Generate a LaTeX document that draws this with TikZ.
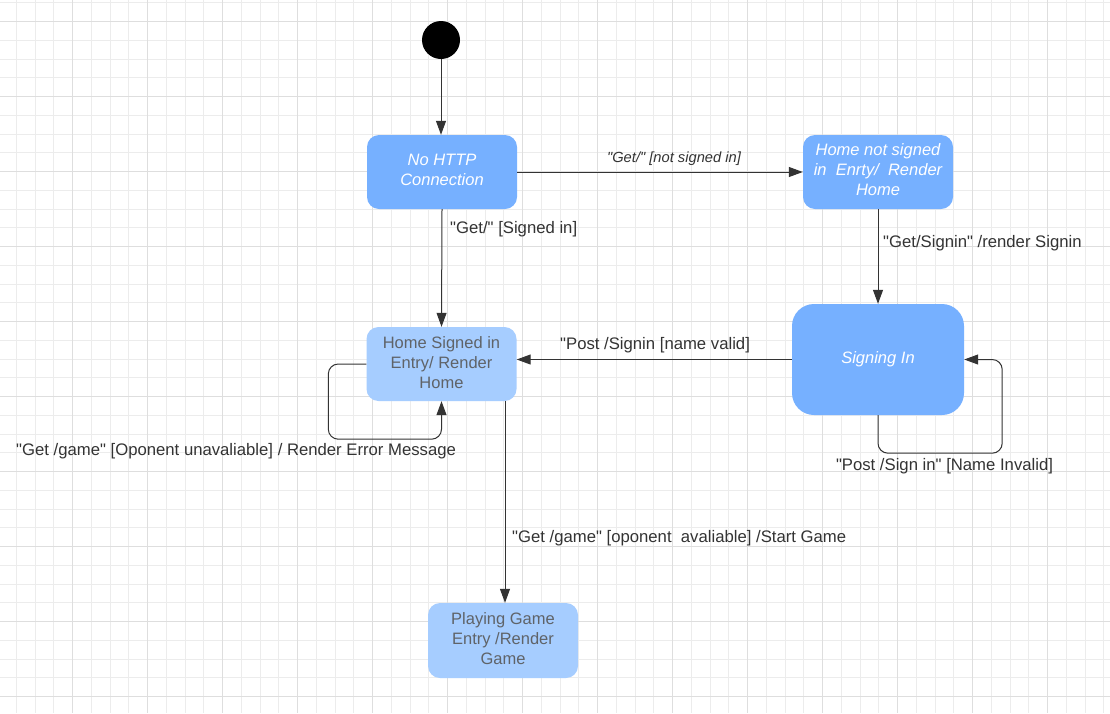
\documentclass[tikz,border=0pt]{standalone}
\usepackage{fontspec}
\setmainfont{Liberation Sans}[Ligatures=TeXOff]
\usetikzlibrary{arrows.meta}
\definecolor{boxA}{RGB}{118,176,255}
\definecolor{boxB}{RGB}{166,205,255}
\definecolor{gridminor}{RGB}{236,236,236}
\definecolor{gridmajor}{RGB}{222,222,222}
\definecolor{ink}{RGB}{51,51,51}
\definecolor{softtxt}{RGB}{95,99,104}
\newcommand{\liftup}[2]{\raisebox{#1}[\height][\depth]{\parbox{150pt}{\centering #2}}}
\tikzset{
  statebright/.style={draw=none, fill=boxA, rounded corners=12pt, text=white,
    font=\fontsize{16.5}{20}\selectfont\itshape, align=center,
    minimum width=150pt, minimum height=74pt, inner sep=0pt},
  statesoft/.style={draw=none, fill=boxB, rounded corners=12pt, text=softtxt,
    font=\fontsize{16.5}{20}\selectfont, align=center,
    minimum width=150pt, minimum height=74pt, inner sep=0pt},
  conn/.style={draw=ink, line width=1pt, -{Triangle[length=14pt,width=10pt]}},
  lbl/.style={text=ink, font=\fontsize{16.7}{19}\selectfont, inner sep=0pt, anchor=west},
  lblit/.style={text=ink, font=\fontsize{14.7}{17}\selectfont\itshape, inner sep=0pt},
}
\begin{document}
\begin{tikzpicture}[x=1pt,y=-1pt]
\useasboundingbox (0,0) rectangle (1110,713);
\fill[white] (0,0) rectangle (1110,713);
% grid
\foreach \k in {0,...,58} {
  \draw[gridminor, line width=1pt] ({16.45+18.75*\k},0) -- ({16.45+18.75*\k},713);
}
\foreach \k in {0,...,38} {
  \draw[gridminor, line width=1pt] (0,{2.95+18.75*\k}) -- (1110,{2.95+18.75*\k});
}
\foreach \k in {0,...,14} {
  \draw[gridmajor, line width=1pt] ({-2.3+75*\k},0) -- ({-2.3+75*\k},713);
}
\foreach \k in {0,...,9} {
  \draw[gridmajor, line width=1pt] (0,{21.7+75*\k}) -- (1110,{21.7+75*\k});
}
% nodes
\node[circle, fill=black, minimum size=38pt, inner sep=0pt] (init) at (441,40) {};
\node[statebright] (nohttp) at (442,172) {\liftup{2pt}{No HTTP\\Connection}};
\node[statebright] (homens) at (878,172) {\liftup{2pt}{Home not signed\\in~ Enrty/~ Render\\Home}};
\node[statebright, rounded corners=22pt, minimum width=172pt, minimum height=111pt] (signin) at (878,359.5) {Signing In};
\node[statesoft] (homesi) at (441.5,364) {\liftup{1pt}{Home Signed in\\Entry/ Render\\Home}};
\node[statesoft, minimum height=75pt] (play) at (503,640.5) {\liftup{2pt}{Playing Game\\Entry /Render\\Game}};
% connectors
\draw[conn] (init) -- (nohttp.north -| init);
\draw[conn] (nohttp.east) -- (homens.west);
\draw[conn] (nohttp.south) -- (homesi.north);
\draw[conn] (homens.south) -- (signin.north);
\draw[conn] (signin.west) -- (signin.west -| homesi.east);
\draw[conn, rounded corners=10pt] (signin.south) -- ++(0,38) -| ([xshift=38pt]signin.east) -- (signin.east);
\draw[conn, rounded corners=10pt] (homesi.west) -- ++(-38,0) |- ([yshift=-38pt]homesi.south) -- (homesi.south);
\draw[conn] ([xshift=63.5pt]homesi.south) -- ([xshift=63.5pt]homesi.south |- play.north);
% labels
\node[lblit] (l1) at (674,159) {"Get/" [not signed in]};
\node[lbl] (l2) at (450,229) {"Get/" [Signed in]};
\node[lbl] (l3) at (883,243) {"Get/Signin" /render Signin};
\node[lbl] (l4) at (560,345) {"Post /Signin [name valid]};
\node[lbl, anchor=center] (l5) at (944.5,466) {"Post /Sign in" [Name Invalid]};
\node[lbl] (l6) at (16,451) {"Get /game" [Oponent unavaliable] / Render Error Message};
\node[lbl] (l7) at (512,538) {"Get /game" [oponent~ avaliable] /Start Game};
\end{tikzpicture}
\end{document}
